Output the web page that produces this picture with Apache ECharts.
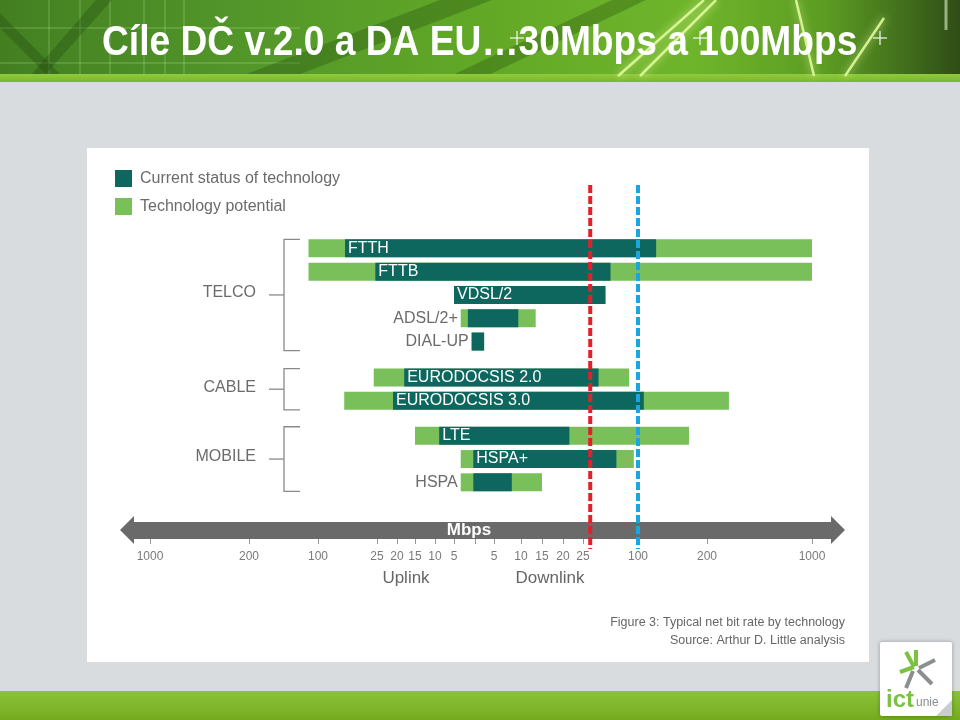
<!DOCTYPE html>
<html><head><meta charset="utf-8">
<script src="https://cdn.jsdelivr.net/npm/echarts@6/dist/echarts.min.js"></script>
<style>html,body{margin:0;padding:0;background:#d9dcdf}#c{width:960px;height:720px}</style>
</head><body><div id="c"></div><script>
// ---------------- data ----------------
const groups = ['TELCO', 'CABLE', 'MOBILE'];
const technologies = ['FTTH', 'FTTB', 'VDSL/2', 'ADSL/2+', 'DIAL-UP', 'EURODOCSIS 2.0', 'EURODOCSIS 3.0', 'LTE', 'HSPA+', 'HSPA'];
const techGroup = ['TELCO', 'TELCO', 'TELCO', 'TELCO', 'TELCO', 'CABLE', 'CABLE', 'MOBILE', 'MOBILE', 'MOBILE'];
// Mbps
const currentUplink     = [53, 26, 5, 1.7, 0.8, 18, 21, 8.9, 0.4, 0.4];
const currentDownlink   = [120, 50, 44, 9.5, 2.4, 37, 106, 21.6, 58, 8.3];
const potentialUplink   = [110, 110, 5, 3.4, 0.8, 27, 54, 15, 3.4, 3.4];
const potentialDownlink = [1000, 1000, 44, 13.5, 2.4, 80, 280, 167, 90, 15];
const uplinkTicks   = [1000, 200, 100, 25, 20, 15, 10, 5];
const downlinkTicks = [5, 10, 15, 20, 25, 100, 200, 1000];
const targetRates = [30, 100];
const seriesNames = ['Current status of technology', 'Technology potential'];

// hand-drawn, irregular axis scale of the source figure: [Mbps, axis units]
const uplinkScale   = [[0, 0], [5, 21], [10, 40], [15, 60], [20, 78], [25, 98], [100, 157], [200, 226], [1000, 325]];
const downlinkScale = [[0, 0], [5, 19], [10, 46], [15, 67], [20, 88], [25, 108], [100, 163], [200, 232], [1000, 337]];

function interp(scale, v) {
  for (let i = 1; i < scale.length; i++) {
    const [v0, p0] = scale[i - 1], [v1, p1] = scale[i];
    if (v <= v1 || i === scale.length - 1) {
      const t = v0 >= 25 ? Math.log(v / v0) / Math.log(v1 / v0) : (v - v0) / (v1 - v0);
      return p0 + t * (p1 - p0);
    }
  }
}
const upPos = v => -interp(uplinkScale, v);
const downPos = v => interp(downlinkScale, v);

// ---------------- styling ----------------
const DARK = '#0e675f', LIGHT = '#79c05a', GRAY_TXT = '#6b6b6b';
const FONT = '"Liberation Sans", Arial, sans-serif';
const AX_MIN = -341, AX_MAX = 356;
const outsideLabel = ['ADSL/2+', 'DIAL-UP', 'HSPA'];
const gridTops = [236.7, 365.9, 424.1];
const rowH = 23.3;

const tickPositions = [...uplinkTicks.map(upPos), 0, ...downlinkTicks.map(downPos)];
const tickText = {};
uplinkTicks.forEach(t => tickText[upPos(t).toFixed(2)] = String(t));
downlinkTicks.forEach(t => tickText[downPos(t).toFixed(2)] = String(t));

const chart = echarts.init(document.getElementById('c'), null, {renderer: 'canvas'});

const grids = [], xAxes = [], yAxes = [], series = [];
groups.forEach((g, gi) => {
  const idx = technologies.map((t, i) => i).filter(i => techGroup[i] === g);
  grids.push({left: 134, right: 129, top: gridTops[gi], height: rowH * idx.length, containLabel: false});
  xAxes.push({type: 'value', gridIndex: gi, min: AX_MIN, max: AX_MAX, show: false});
  yAxes.push({type: 'category', gridIndex: gi, inverse: true, data: idx.map(i => technologies[i]), show: false});
  const mk = (name, color, vals, fn, labelFn) => ({
    type: 'bar', name, xAxisIndex: gi, yAxisIndex: gi, barWidth: 18, barGap: '-100%',
    itemStyle: {color}, silent: true, animation: false, emphasis: {disabled: true},
    data: idx.map(i => {
      const d = {value: fn(vals[i])};
      const l = labelFn ? labelFn(i) : null;
      if (l) d.label = l;
      return d;
    })
  });
  series.push(mk(seriesNames[1], LIGHT, potentialUplink, upPos, i => outsideLabel.includes(technologies[i]) ?
    {show: true, position: 'left', distance: 3, color: GRAY_TXT, fontSize: 16, fontFamily: FONT, formatter: '{b}'} : null));
  series.push(mk(seriesNames[1], LIGHT, potentialDownlink, downPos));
  series.push(mk(seriesNames[0], DARK, currentUplink, upPos, i => !outsideLabel.includes(technologies[i]) ?
    {show: true, position: 'insideLeft', distance: 3, color: '#fff', fontSize: 16, fontFamily: FONT, formatter: '{b}'} : null));
  series.push(mk(seriesNames[0], DARK, currentDownlink, downPos));
});

// band axis (arrow) and tick axis under the bottom grid
xAxes.push({
  type: 'value', gridIndex: 2, min: AX_MIN, max: AX_MAX, position: 'bottom', offset: 36,
  axisLine: {show: true, symbol: ['triangle', 'triangle'], symbolSize: [28, 14], symbolOffset: [-7, 7],
    lineStyle: {color: '#6a6a6a', width: 17, cap: 'butt'}},
  axisTick: {show: false}, axisLabel: {show: false}, splitLine: {show: false}
});
xAxes.push({
  type: 'value', gridIndex: 2, min: AX_MIN, max: AX_MAX, position: 'bottom', offset: 45,
  axisLine: {show: false},
  axisTick: {show: true, length: 5, customValues: tickPositions, lineStyle: {color: '#999', width: 1}},
  axisLabel: {show: true, customValues: tickPositions, margin: 12, color: '#7a7a7a', fontSize: 12, fontFamily: FONT,
    formatter: v => tickText[Number(v).toFixed(2)] || ''},
  splitLine: {show: false}
});

const option = {
  backgroundColor: '#d9dcdf',
  animation: false,
  legend: {
    data: seriesNames, orient: 'vertical', left: 115, top: 170, padding: 0,
    itemWidth: 17, itemHeight: 17, itemGap: 11, icon: 'rect',
    textStyle: {color: GRAY_TXT, fontSize: 16, fontFamily: FONT, padding: [0, 0, 0, 3]}
  },
  grid: grids, xAxis: xAxes, yAxis: yAxes, series
};
chart.setOption(option);

// ---------------- decoration & annotations ----------------
const T = (text, x, y, font, fill, align, vAlign, extra) => ({
  type: 'text', silent: true, z: 50,
  style: Object.assign({text, x, y, font, fill, align, textAlign: align, verticalAlign: vAlign, textVerticalAlign: vAlign}, extra || {})
});
const L = (x1, y1, x2, y2, stroke, w, z, extra) => ({
  type: 'line', silent: true, z: z || 1, shape: {x1, y1, x2, y2},
  style: Object.assign({stroke, lineWidth: w}, extra || {})
});

const g = [];
// banner
g.push({type: 'rect', z: 0, silent: true, shape: {x: 0, y: 0, width: 960, height: 78},
  style: {fill: new echarts.graphic.LinearGradient(0, 0, 1, 0, [
    {offset: 0, color: '#437f21'}, {offset: 0.25, color: '#52962a'}, {offset: 0.5, color: '#62a826'},
    {offset: 0.72, color: '#6fb52b'}, {offset: 0.86, color: '#5c9c22'}, {offset: 0.95, color: '#3f6a1b'}, {offset: 1, color: '#2f4c16'}])}});
// grid lines left
[49, 80, 110, 144, 165, 184].forEach(x => g.push(L(x, 0, x, 76, 'rgba(200,240,170,0.35)', 1, 1)));
[28, 63].forEach(y => g.push(L(0, y, 300, y, 'rgba(200,240,170,0.35)', 1, 1)));
// dark diagonal stripes
[[[0, 13], [0, 28], [48, 76], [62, 76]], [[96, 0], [112, 0], [44, 76], [30, 76]],
 [[440, 0], [492, 0], [290, 78], [236, 78]], [[612, 0], [646, 0], [482, 78], [446, 78]]].forEach(p =>
  g.push({type: 'polygon', z: 1, silent: true, shape: {points: p}, style: {fill: 'rgba(25,60,10,0.28)'}}));
// bright streaks
[[618, 76, 704, 0], [640, 76, 716, 0], [814, 76, 796, 0], [845, 76, 884, 18]].forEach(s =>
  g.push(L(s[0], s[1], s[2], s[3], 'rgba(230,255,160,0.85)', 2.5, 2, {shadowBlur: 8, shadowColor: 'rgba(240,255,170,0.9)'})));
g.push(L(946, 0, 946, 30, 'rgba(220,240,200,0.6)', 3, 2));
// small crosses
[[517, 38], [700, 38], [880, 38]].forEach(([x, y]) => {
  g.push(L(x - 7, y, x + 7, y, 'rgba(255,255,255,0.75)', 1.5, 2));
  g.push(L(x, y - 7, x, y + 7, 'rgba(255,255,255,0.75)', 1.5, 2));
});
g.push({type: 'rect', z: 1, silent: true, shape: {x: 0, y: 74, width: 960, height: 8},
  style: {fill: new echarts.graphic.LinearGradient(0, 0, 0, 1, [{offset: 0, color: '#8fcb3d'}, {offset: 1, color: '#7cb52c'}])}});
g.push({
  type: 'text', silent: true, z: 50, x: 102, y: 43, scaleX: 0.885, scaleY: 1,
  style: {text: 'Cíle DČ v.2.0 a DA EU…30Mbps a 100Mbps', x: 0, y: 0, font: 'bold 42px "Liberation Sans", Arial',
    fill: '#fff', align: 'left', textAlign: 'left', verticalAlign: 'middle', textVerticalAlign: 'middle',
    shadowBlur: 3, shadowColor: 'rgba(0,0,0,0.45)', shadowOffsetX: 1, shadowOffsetY: 1}
});

// white panel
g.push({type: 'rect', z: -10, silent: true, shape: {x: 87, y: 148, width: 782, height: 514}, style: {fill: '#fff'}});

// bottom strip
g.push({type: 'rect', z: 0, silent: true, shape: {x: 0, y: 691, width: 960, height: 29},
  style: {fill: new echarts.graphic.LinearGradient(0, 0, 0, 1, [{offset: 0, color: '#8bc23a'}, {offset: 1, color: '#74ab1e'}])}});
// logo
g.push({type: 'rect', z: 5, silent: true, shape: {x: 880, y: 642, width: 72, height: 74, r: 2},
  style: {fill: '#fff', shadowBlur: 4, shadowColor: 'rgba(0,0,0,0.3)'}});
g.push({type: 'polygon', z: 6, silent: true, shape: {points: [[952, 700], [952, 716], [936, 716]]}, style: {fill: '#c9cdd0'}});
g.push(L(906, 652, 914, 667, '#7cc242', 4, 6));
g.push(L(900, 672, 914, 667, '#7cc242', 4, 6));
g.push(L(916, 650, 916, 666, '#7cc242', 4, 6));
g.push(L(919, 668, 935, 660, '#8a8f92', 4, 6));
g.push(L(918, 670, 932, 684, '#8a8f92', 4, 6));
g.push(L(913, 671, 906, 688, '#8a8f92', 4, 6));
g.push(T('ict', 886, 700, 'bold 24px ' + FONT, '#7cc242', 'left', 'middle', {z: 7}));
g.push(T('unie', 916, 703, '12px ' + FONT, '#8a8f92', 'left', 'middle'));

// axis texts
g.push(T('Mbps', 469, 530, 'bold 17px ' + FONT, '#fff', 'center', 'middle'));
g.push(T('Uplink', 406, 578, '17px ' + FONT, '#666', 'center', 'middle'));
g.push(T('Downlink', 550, 578, '17px ' + FONT, '#666', 'center', 'middle'));
g.push(T('Figure 3: Typical net bit rate by technology', 845, 623, '12.5px ' + FONT, '#666', 'right', 'middle'));
g.push(T('Source: Arthur D. Little analysis', 845, 641, '12.5px ' + FONT, '#666', 'right', 'middle'));

// group brackets & labels
groups.forEach((name, gi) => {
  const n = techGroup.filter(t => t === name).length;
  const yTop = chart.convertToPixel({yAxisIndex: gi}, 0) - 9;
  const yBot = chart.convertToPixel({yAxisIndex: gi}, n - 1) + 9;
  const yMid = (yTop + yBot) / 2;
  const c = '#8a8a8a';
  g.push({type: 'polyline', z: 10, silent: true, shape: {points: [[300, yTop], [284, yTop], [284, yBot], [300, yBot]]},
    style: {stroke: c, lineWidth: 1.3, fill: null}});
  g.push(L(269, yMid, 284, yMid, c, 1.3, 10));
  g.push(T(name, 256, yMid - 2, '16px ' + FONT, GRAY_TXT, 'right', 'middle'));
});

// target lines (30 and 100 Mbps downlink)
const targetColors = ['#e3202a', '#1ba6e0'];
targetRates.forEach((r, i) => {
  const x = chart.convertToPixel({xAxisIndex: 0}, downPos(r));
  g.push(L(x, 185, x, 549, targetColors[i], 4, 60, {lineDash: [8, 3]}));
});

chart.setOption({graphic: {elements: g}});
</script></body></html>
